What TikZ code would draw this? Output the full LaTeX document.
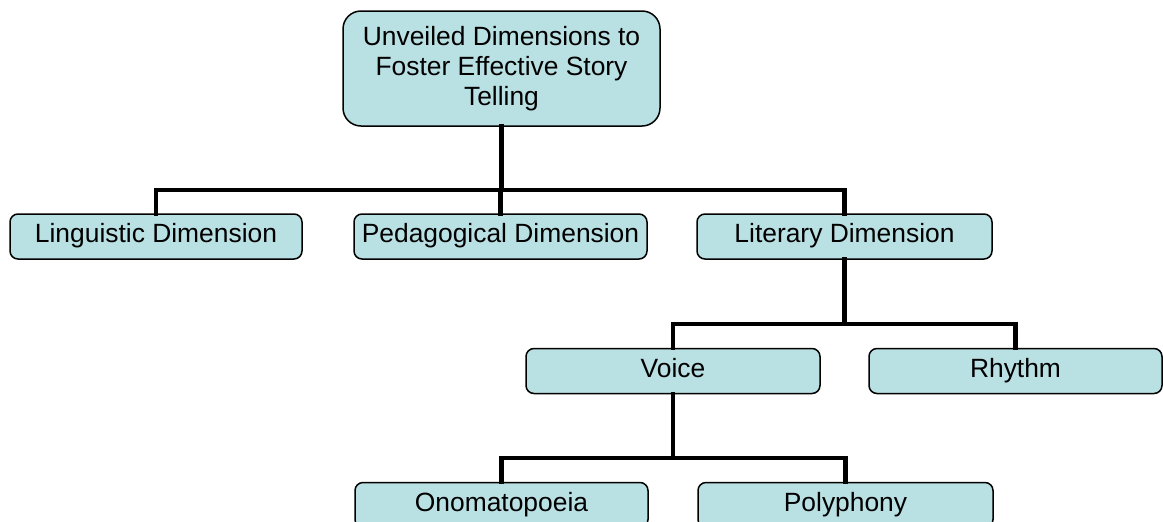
\documentclass[tikz,border=0pt]{standalone}
\usepackage{fontspec}
\setmainfont{Liberation Sans}
\usepackage{xcolor}
\usepackage{tikz}
\usetikzlibrary{positioning, calc}
\definecolor{boxfill}{RGB}{185,224,227}
\tikzset{
    dimbox/.style={draw=black, fill=boxfill, line width=0.75pt, rounded corners=4pt,
                   inner sep=0pt, minimum height=22.5pt, align=center,
                   text height=9.4pt, text depth=3pt,
                   font=\fontsize{13.2}{15}\selectfont},
    conn/.style={line width=2.4pt, line cap=rect}
}

\begin{document}
\begin{tikzpicture}[x=0.5pt, y=-0.5pt]

    % Frame of the page
    \useasboundingbox (0,0) rectangle (1163,521);
    \clip (0,0) rectangle (1163,521);

    % Bus lines of the three levels
    \coordinate (busA) at (0,190);
    \coordinate (busB) at (0,324);
    \coordinate (busC) at (0,458);

    % Root box
    \node[dimbox, text height=, text depth=, rounded corners=9pt, minimum width=158.5pt, minimum height=57.5pt] (root) at (501.5,68.5)
        {Unveiled Dimensions to\\Foster Effective Story\\Telling};

    % First level
    \node[dimbox, minimum width=146pt] (ling) at (156,236.5) {Linguistic Dimension};
    \node[dimbox, minimum width=146.5pt] (peda) at (500.5,236.5) {Pedagogical Dimension};
    \node[dimbox, minimum width=147.5pt] (lite) at (844.5,236.5) {Literary Dimension};

    % Second level
    \node[dimbox, minimum width=147pt] (voice) at (673,371) {Voice};
    \node[dimbox, minimum width=146.5pt] (rhythm) at (1015.5,371) {Rhythm};

    % Third level
    \node[dimbox, minimum width=146.5pt] (ono) at (501.5,505) {Onomatopoeia};
    \node[dimbox, minimum width=147.5pt] (poly) at (845.5,505) {Polyphony};

    % Root to first level
    \draw[conn] (root.south) -- (root.south |- busA);
    \draw[conn] (ling.north) -- (ling.north |- busA) -- (lite.north |- busA) -- (lite.north);
    \draw[conn] (peda.north) -- (peda.north |- busA);

    % Literary dimension to its parts
    \draw[conn] (lite.south) -- (lite.south |- busB);
    \draw[conn] (voice.north) -- (voice.north |- busB) -- (rhythm.north |- busB) -- (rhythm.north);

    % Voice to its parts
    \draw[conn] (voice.south) -- (voice.south |- busC);
    \draw[conn] (ono.north) -- (ono.north |- busC) -- (poly.north |- busC) -- (poly.north);

\end{tikzpicture}
\end{document}
